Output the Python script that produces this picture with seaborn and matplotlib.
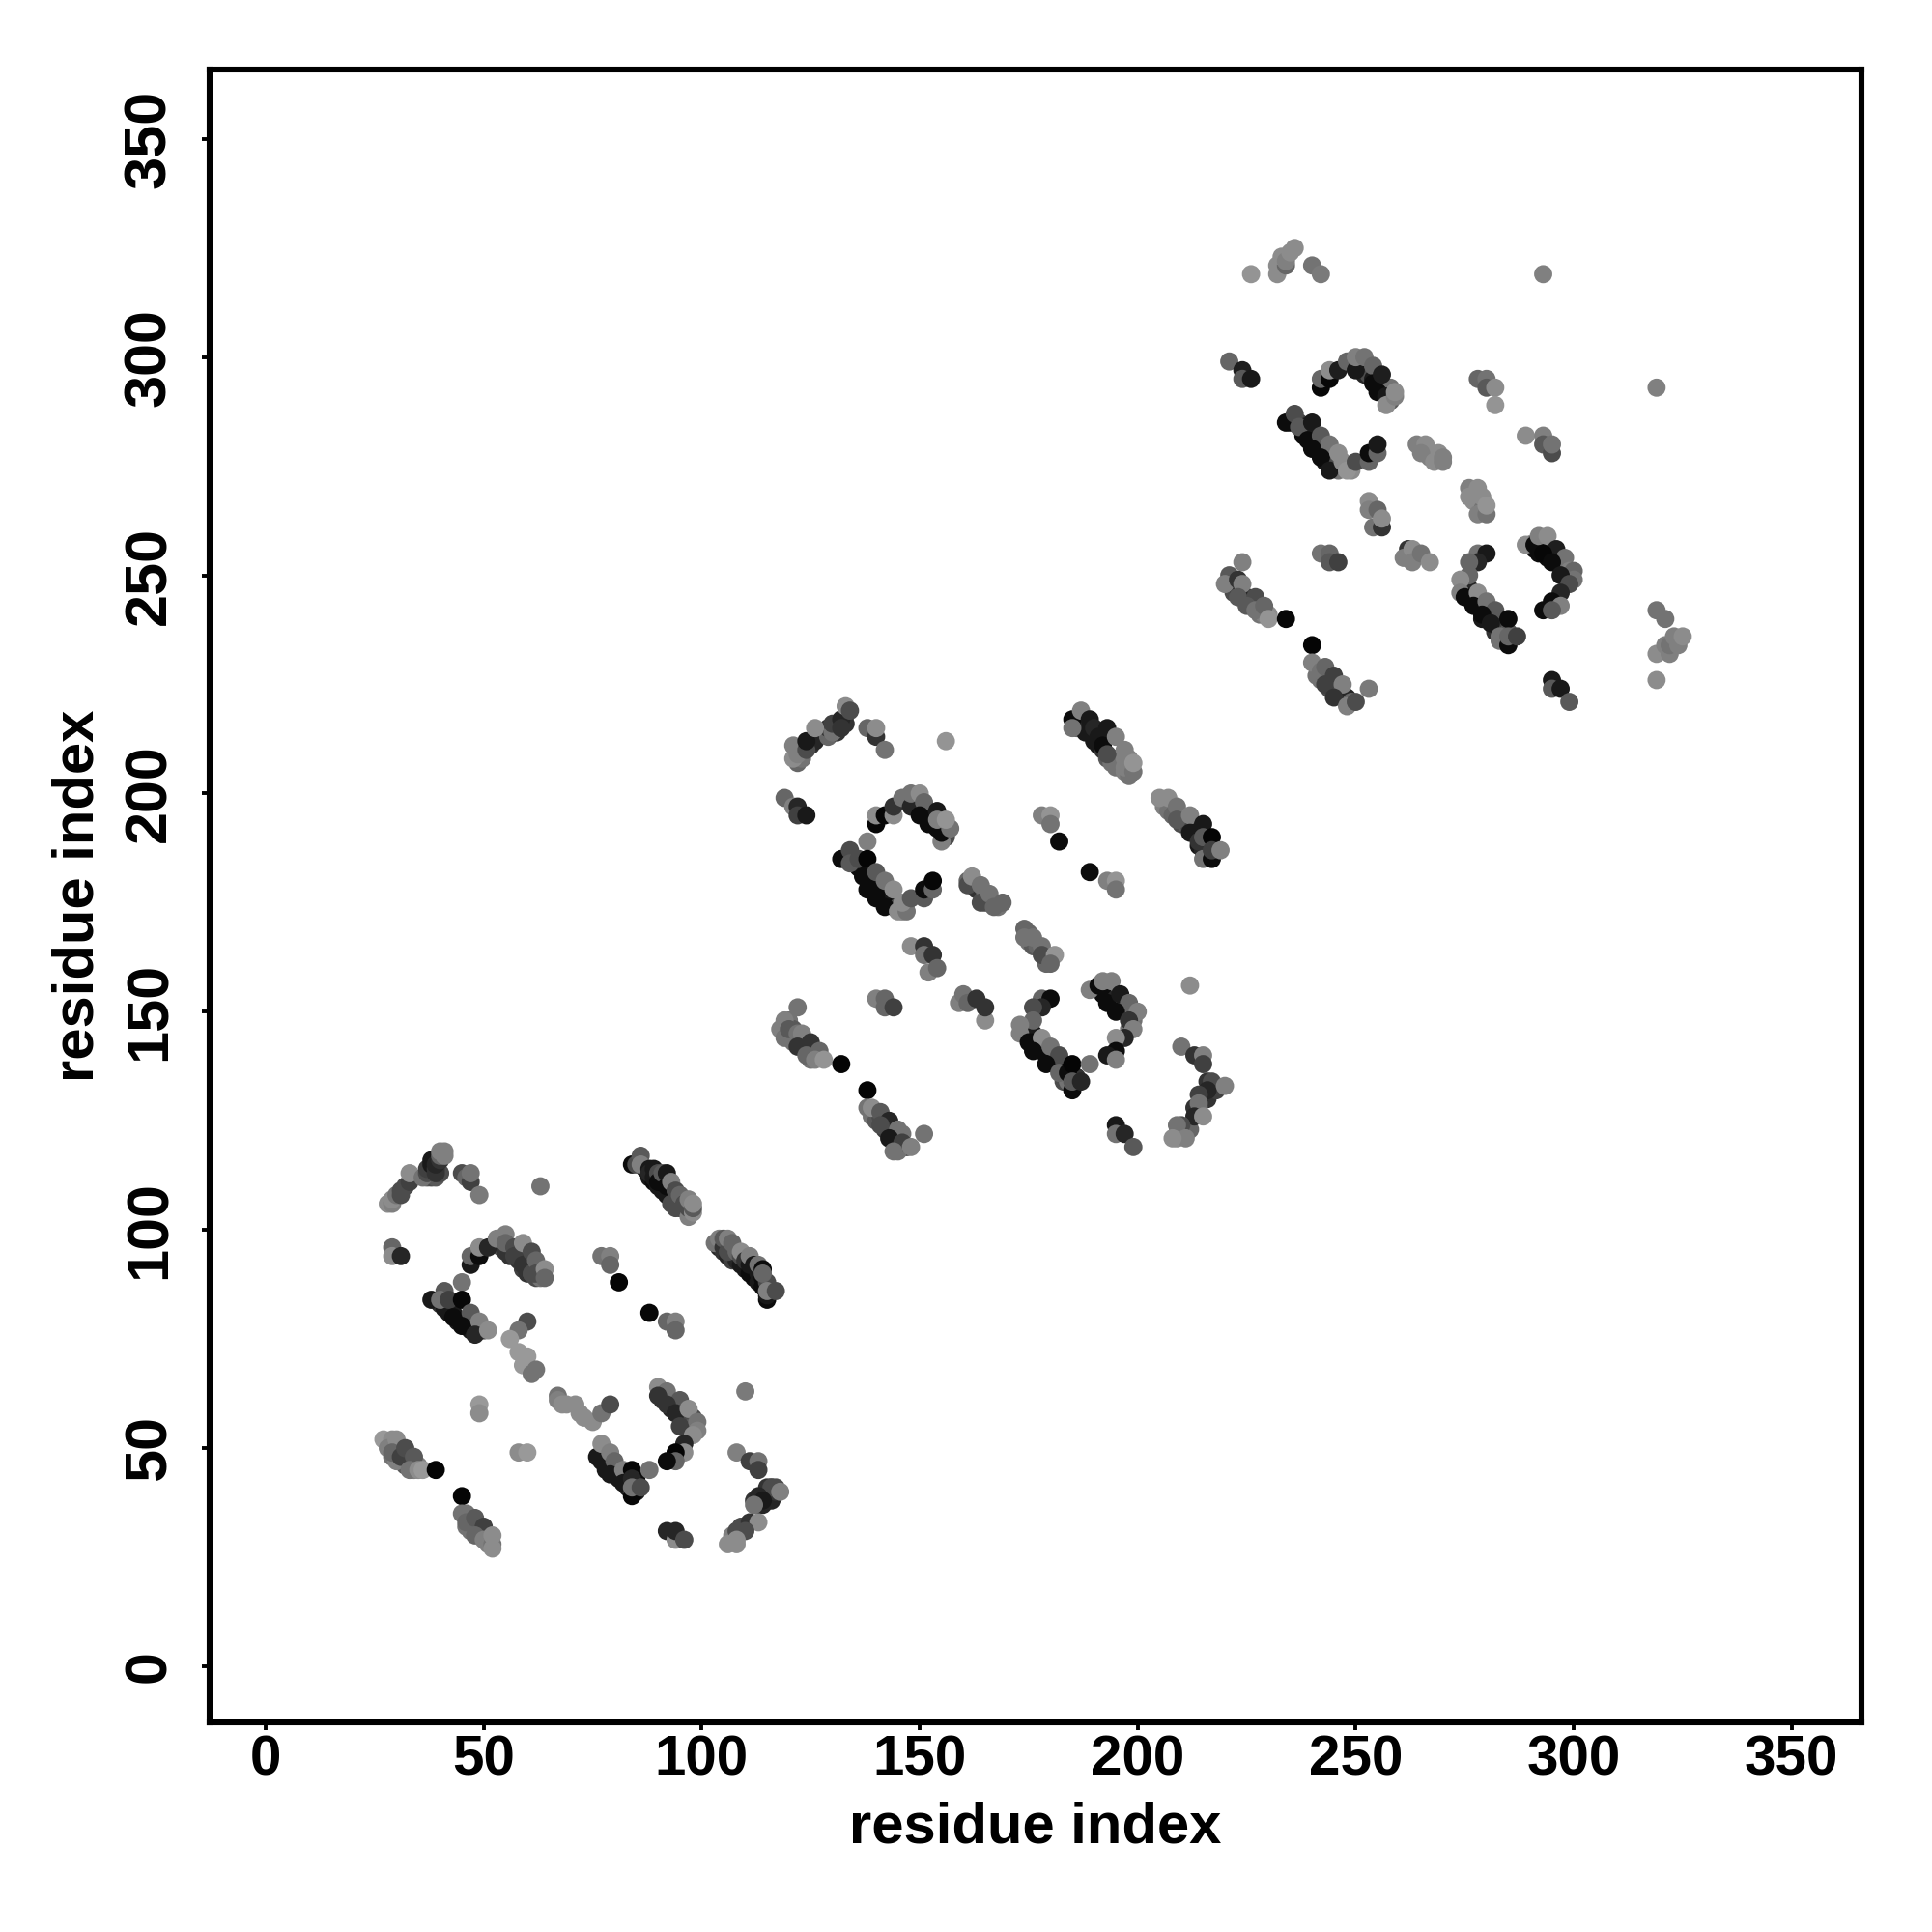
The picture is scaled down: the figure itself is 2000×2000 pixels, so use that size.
import matplotlib
matplotlib.use("Agg")
import matplotlib.pyplot as plt
import pandas as pd
import seaborn as sns

# Each entry: (residue x, residue y, grey level)
under_a = [(37,112,.4),(38,112,.3),(38,113,.25),(39,112,.35),(40,113,.3),(87,114,.1),(88,112,.1),(89,111,.05),(90,110,.1),(91,109,.1),
           (92,108,.1),(93,106,.3),(94,105,.3),(95,105,.3),(97,103,.5),(104,96,.15),(105,95,.2),(106,94,.15),(107,93,.25),(108,93,.15),
           (109,92,.1),(110,91,.1),(111,90,.05),(112,89,.05),(113,88,.1),(114,87,.05),(115,86,.2),(54,96,.3),(55,95,.2),(56,94,.2),
           (58,93,.2),(59,91,.25),(60,90,.2),(61,90,.3),(62,89,.3),(63,89,.45),(40,83,.2),(41,82,.1),(42,81,.1),(43,81,.1),(44,79,.1),
           (45,79,.1),(46,78,.1),(47,77,.1),(48,77,.15),(49,77,.15),(50,77,.2),(28,51,.4),(29,50,.35),(29,48,.45),(30,48,.15),
           (30,49,.2),(31,47,.4),(32,46,.35),(33,46,.4),(34,46,.45),(34,45,.5),(35,46,.5),(46,35,.45),(46,32,.45),(47,31,.45),
           (47,33,.4),(48,32,.4),(49,30,.45),(49,32,.3),(50,31,.3),(51,30,.4),(51,28,.5),(51,29,.45),(91,61,.2),(92,61,.15),
           (93,59,.15),(94,60,.2),(95,58,.2),(96,57,.2),(96,55,.4),(97,54,.45),(97,56,.25),(98,57,.3),(98,55,.35),(77,47,.1),
           (78,46,.1),(79,46,.15),(80,44,.1),(81,43,.1),(82,44,.15),(83,41,.1),(83,43,.15),(84,40,.35),(85,43,.05),(85,40,.1),
           (112,38,.2),(113,37,.2),(114,37,.15),(115,39,.15),(116,38,.15),(117,40,.2),(116,41,.25),(117,41,.3),(109,32,.3),
           (107,30,.5),(108,28,.55)]
arc_a = [(28,106,.55),(29,106,.5),(29,107,.55),(30,108,.45),(31,108,.3),(31,109,.3),(32,110,.3),(33,111,.25),(33,113,.55),
         (36,112,.45),(37,113,.3),(37,114,.25),(38,115,.1),(38,116,.1),(39,113,.2),(39,114,.2),(39,115,.15),(40,116,.2),
         (40,117,.4),(40,118,.5),(41,118,.5),(41,117,.5),(45,113,.3),(46,112,.4),(47,111,.25),(47,113,.45),(49,108,.48),(63,110,.45)]
strip_a1 = [(84,115,.05),(85,115,.3),(86,117,.35),(86,115,.5),(88,114,.1),(88,113,.15),(89,112,.1),(89,114,.1),(90,113,.3),
            (90,111,.05),(91,113,.35),(92,110,.05),(92,113,.1),(93,111,.5),(94,109,.3),(94,107,.3),(95,108,.4),(96,106,.3),
            (97,105,.3),(97,107,.5),(98,104,.55),(98,105,.35),(98,106,.55)]
strip_a2 = [(103,97,.45),(104,98,.5),(105,96,.2),(105,98,.35),(106,95,.3),(106,98,.5),(107,96,.3),(107,97,.4),(108,95,.4),
            (109,94,.3),(109,95,.55),(110,93,.2),(111,92,.1),(111,94,.5),(112,92,.1),(113,90,.1),(113,91,.1),(113,92,.45),
            (114,89,.05),(114,91,.05),(115,84,.05),(115,85,.1),(115,88,.3),(114,90,.4),(115,86,.5),(117,86,.3)]
arch_a = [(29,96,.4),(29,94,.55),(31,94,.15),(47,92,.1),(47,94,.4),(49,94,.05),(49,96,.55),(51,96,.15),(53,98,.5),(55,99,.5),
          (55,97,.4),(57,96,.3),(57,94,.25),(59,97,.55),(59,92,.2),(61,95,.3),(61,90,.3),(62,93,.4),(62,90,.3),(64,91,.55),
          (64,89,.4),(45,88,.45)]
strip_a3 = [(38,84,.1),(41,86,.35),(40,84,.45),(42,84,.25),(45,84,.03),(43,80,.05),(47,81,.35),(45,78,.05),(49,79,.5),
            (48,76,.15),(51,77,.55)]
loose_a = [(60,79,.3),(58,77,.45),(56,75,.6),(58,72,.6),(60,71,.6),(59,69,.6),(61,67,.45),(62,68,.45),(49,60,.6),(49,58,.55),
           (58,49,.55),(60,49,.6),(67,62,.45),(67,61,.5),(68,60,.55),(69,60,.55),(71,60,.55),(72,58,.55),(73,57,.55),
           (75,56,.55),(77,58,.45),(79,60,.3),(77,94,.45),(79,94,.5),(79,92,.4),(81,88,.02),(88,81,.03),(92,79,.4),
           (94,79,.5),(94,77,.4),(110,63,.48),(92,31,.15),(94,29,.55),(94,31,.15),(96,29,.3)]
corner_a = [(27,52,.6),(29,52,.55),(28,50,.5),(30,52,.55),(30,47,.5),(29,49,.4),(31,48,.25),(32,50,.3),(34,48,.35),(33,45,.45),
            (35,45,.55),(36,45,.6),(39,45,.02),(45,39,.02),(45,35,.45),(46,33,.4),(48,34,.35),(50,32,.25),(48,30,.4),
            (50,29,.5),(52,28,.45),(52,27,.55),(52,30,.55)]
ushape_a = [(90,64,.55),(92,63,.45),(90,62,.2),(95,61,.35),(92,60,.2),(94,58,.15),(97,59,.55),(95,55,.25),(99,56,.45),(99,54,.5),
            (98,53,.55),(96,51,.15),(96,49,.55),(94,49,.02),(94,47,.4),(92,47,.05),(76,48,.1),(77,51,.55),(79,49,.5),(78,45,.1),
            (80,47,.4),(79,44,.1),(82,45,.5),(84,45,.03),(84,39,.03),(82,42,.1),(84,43,.15),(84,41,.45),(86,41,.3),(88,45,.45)]
chevron_a = [(108,49,.5),(111,47,.25),(113,47,.45),(113,45,.25),(115,41,.2),(116,41,.3),(113,39,.15),(114,38,.1),(112,37,.45),
             (118,40,.5),(111,33,.2),(113,33,.55),(108,31,.3),(110,31,.3),(108,29,.55),(106,28,.55)]

under_b = [(122,207,.4),(122,210,.3),(123,208,.45),(125,211,.2),(126,212,.15),(129,213,.4),(129,215,.2),(131,214,.2),(131,216,.2),
           (133,216,.2),(133,218,.2),(186,215,.4),(188,216,.15),(188,214,.1),(189,214,.1),(190,212,.1),(191,211,.1),(192,210,.2),
           (193,208,.35),(194,207,.45),(195,208,.4),(195,206,.45),(196,207,.45),(197,205,.5),(198,204,.45),(198,208,.5),(197,208,.5),
           (206,197,.5),(207,196,.45),(208,195,.4),(209,195,.4),(210,193,.3),(211,193,.35),(212,192,.25),(213,191,.1),(214,188,.1),
           (216,188,.05),(216,186,.1),(215,187,.15),(149,198,.15),(150,197,.15),(151,195,.1),(152,195,.1),(153,193,.05),(154,192,.05),
           (155,192,.1),(156,190,.3),(156,192,.4),(135,184,.1),(136,183,.05),(137,183,.1),(138,182,.15),(139,180,.05),(140,180,.05),
           (141,178,.05),(142,177,.05),(143,175,.1),(144,174,.05),(145,174,.3),(146,173,.5),(147,175,.5),(162,179,.3),(163,178,.2),
           (165,177,.4),(165,175,.3),(166,175,.4),(168,174,.45),(175,168,.4),(175,166,.45),(176,165,.35),(177,165,.4),(178,164,.4),
           (179,163,.25),(179,161,.4),(120,148,.45),(120,144,.45),(121,143,.45),(121,146,.35),(123,143,.2),(124,142,.25),(125,141,.35),
           (125,139,.45),(126,141,.45),(127,140,.5),(139,126,.45),(140,125,.35),(141,126,.3),(142,123,.25),(142,125,.2),(143,123,.1),
           (144,122,.2),(144,120,.25),(145,121,.35),(146,122,.45),(147,119,.2),(145,118,.45),(191,155,.05),(192,154,.05),(193,153,.05),
           (194,152,.1),(195,153,.15),(196,151,.1),(197,150,.1),(197,152,.35),(198,150,.4),(199,149,.5),(198,146,.45),(199,148,.45),
           (174,146,.1),(175,145,.05),(176,145,.1),(176,143,.05),(177,142,.05),(178,141,.05),(179,140,.05),(180,139,.05),(181,138,.1),
           (182,137,.1),(183,138,.3),(183,134,.3),(184,134,.45),(184,137,.05),(186,135,.2),(216,134,.2),(217,133,.2),(218,133,.3),
           (215,131,.15),(216,130,.2),(218,132,.25),(214,128,.45),(213,128,.2),(209,122,.5),(209,121,.55),(212,123,.4),(210,122,.45)]
arc_b = [(121,208,.55),(121,211,.5),(122,209,.5),(124,210,.3),(124,212,.1),(126,215,.55),(130,214,.45),(130,216,.25),(132,217,.15),
         (132,215,.2),(133,220,.55),(134,219,.3),(138,215,.4),(140,213,.2),(140,215,.55),(142,210,.45),(156,212,.58)]
strip_b1 = [(185,217,.05),(185,215,.45),(187,219,.5),(189,217,.1),(190,215,.15),(191,213,.1),(192,211,.05),(193,215,.1),(195,213,.5),
            (193,209,.3),(197,210,.5),(197,206,.5),(199,205,.45),(199,207,.58)]
strip_b2 = [(205,199,.55),(207,199,.55),(209,197,.45),(209,194,.35),(212,195,.5),(212,191,.1),(215,193,.1),(214,189,.2),(215,190,.35),
            (217,190,.02),(215,185,.45),(217,185,.05),(217,187,.25),(219,187,.5)]
arch_b = [(119,199,.4),(121,197,.5),(122,197,.15),(122,195,.25),(124,195,.1),(140,193,.03),(140,195,.55),(142,195,.03),(144,195,.55),
          (144,197,.2),(146,199,.45),(148,197,.15),(148,200,.45),(150,200,.55),(151,198,.4),(150,195,.05),(154,196,.1),(152,193,.05),
          (155,189,.5),(155,191,.05),(154,194,.5),(157,192,.45),(156,194,.58),(138,189,.5)]
strip_b3 = [(132,185,.05),(134,187,.3),(134,184,.35),(136,185,.3),(138,185,.02),(137,181,.05),(140,182,.35),(138,178,.05),(142,180,.45),
            (140,176,.05),(144,178,.55),(142,174,.05),(145,173,.55),(147,173,.45),(146,175,.55),(148,176,.35),(151,176,.35),(151,178,.05),
            (153,178,.4),(153,180,.03)]
loose_b = [(161,180,.4),(161,179,.3),(162,181,.55),(164,179,.45),(164,175,.3),(166,177,.45),(167,174,.4),(169,175,.4),(178,195,.5),
           (180,195,.58),(180,193,.45),(182,189,.05),(189,182,.05),(193,180,.5),(195,180,.58),(195,178,.45),(174,169,.4),(174,167,.45),
           (176,167,.45),(178,165,.45),(178,163,.3),(181,163,.58),(180,161,.4),(148,165,.55),(151,165,.2),(151,163,.45),(153,163,.2),
           (152,159,.5),(154,160,.4),(140,153,.5),(142,153,.4),(142,151,.4),(144,151,.25),(159,152,.5),(160,154,.45),(161,152,.4),
           (163,153,.2),(165,148,.55),(165,151,.2),(212,156,.55)]
corner_b = [(122,151,.45),(119,148,.5),(118,146,.5),(119,144,.45),(120,146,.35),(122,145,.45),(123,145,.5),(122,142,.2),(125,143,.2),
            (124,140,.4),(127,141,.4),(126,139,.5),(128,139,.58),(132,138,.02),(138,132,.02),(138,128,.45),(139,128,.55),(141,127,.35),
            (143,125,.15),(141,124,.3),(145,123,.45),(143,121,.1),(146,120,.25),(144,118,.45),(148,119,.5),(151,122,.45)]
ushape_b = [(189,155,.5),(191,156,.05),(192,157,.5),(194,157,.5),(193,152,.05),(196,154,.1),(198,152,.4),(195,150,.05),(200,150,.5),
            (198,148,.2),(199,146,.5),(197,144,.15),(195,144,.55),(195,141,.05),(193,140,.1),(195,139,.5),(178,153,.4),(180,153,.05),
            (178,151,.15),(176,151,.3),(176,148,.4),(173,147,.5),(173,145,.5),(175,143,.05),(178,144,.55),(176,141,.05),(180,142,.45),
            (182,140,.3),(179,138,.05),(182,136,.4),(184,136,.05),(185,138,.02),(185,132,.05),(185,134,.35),(187,134,.15),(189,138,.45)]
chevron_b = [(210,142,.45),(213,140,.2),(215,140,.5),(215,138,.25),(217,134,.3),(216,132,.15),(214,131,.25),(214,129,.45),(220,133,.5),
             (213,126,.15),(215,126,.55),(210,124,.3),(209,124,.45),(211,121,.5),(208,121,.55),(195,124,.1),(195,122,.45),(197,122,.15),
             (199,119,.35)]

under_c = [(251,298,.2),(252,296,.15),(253,296,.3),(254,295,.1),(255,293,.1),(256,292,.05),(257,291,.1),(258,290,.35),(258,293,.45),
           (235,285,.1),(237,285,.25),(238,284,.1),(238,282,.05),(239,283,.2),(240,280,.05),(241,279,.05),(241,281,.2),(242,279,.1),
           (243,278,.1),(243,276,.1),(244,276,.15),(245,275,.3),(246,274,.45),(247,275,.5),(249,274,.55),(249,275,.55),(265,279,.5),
           (267,278,.5),(267,277,.5),(269,278,.55),(277,269,.5),(277,267,.55),(279,267,.55),(279,265,.45),(279,268,.55),(221,249,.4),
           (222,246,.3),(223,247,.2),(224,245,.4),(225,245,.15),(226,243,.35),(227,243,.2),(228,241,.45),(228,243,.35),(229,241,.5),
           (230,241,.55),(241,227,.45),(242,226,.45),(243,227,.3),(244,224,.3),(245,224,.2),(246,223,.35),(246,225,.3),(247,222,.45),
           (247,223,.1),(248,222,.15),(249,221,.4),(290,257,.05),(291,256,.05),(292,255,.05),(293,256,.2),(294,254,.05),(295,255,.3),
           (296,254,.1),(297,252,.1),(298,250,.3),(298,252,.4),(299,250,.45),(299,249,.35),(275,248,.1),(275,246,.1),(276,247,.15),
           (276,245,.05),(277,244,.05),(278,243,.05),(279,243,.1),(279,240,.1),(280,242,.1),(280,240,.1),(281,241,.2),(282,239,.1),
           (282,237,.2),(283,238,.2),(284,238,.25),(284,235,.3),(285,235,.1),(286,236,.3),(283,235,.45),(285,237,.35)]
top_c = [(226,319,.58),(232,319,.55),(232,321,.55),(234,321,.4),(233,323,.55),(234,322,.5),(235,324,.55),(236,325,.55),(240,321,.45),
         (242,319,.48),(293,319,.5)]
arch_c = [(221,299,.4),(224,297,.12),(224,295,.35),(226,295,.1),(242,293,.03),(242,295,.4),(244,295,.03),(244,297,.55),(246,297,.12),
          (248,299,.4),(250,297,.1),(250,300,.5),(252,300,.45),(254,298,.4),(254,294,.05),(256,296,.12),(255,292,.05),(257,291,.1),
          (257,289,.55),(259,291,.5),(259,292,.55),(278,295,.4),(280,295,.45),(280,293,.35),(282,293,.55),(282,289,.58),(319,293,.5)]
strip_c = [(234,285,.05),(236,287,.3),(237,284,.35),(240,285,.1),(239,281,.05),(242,282,.35),(240,279,.05),(244,280,.45),(242,277,.05),
           (246,278,.55),(244,274,.1),(247,276,.55),(248,274,.58),(250,276,.3),(253,276,.4),(253,278,.05),(255,278,.4),(255,280,.1)]
loose_c = [(264,280,.5),(266,280,.55),(265,278,.5),(268,276,.55),(270,277,.5),(270,276,.5),(289,282,.55),(293,282,.5),(293,280,.35),
           (295,278,.3),(295,280,.45),(276,270,.5),(276,268,.55),(278,270,.55),(278,264,.5),(280,264,.45),(280,266,.58),(253,267,.55),
           (253,265,.5),(255,265,.4),(254,261,.45),(256,261,.2),(256,263,.55),(242,255,.45),(244,255,.4),(244,253,.35),(246,253,.25),
           (262,256,.2),(261,254,.5),(263,256,.55),(263,253,.5),(265,255,.45),(267,253,.55)]
corner_c = [(224,253,.5),(221,250,.35),(220,248,.5),(223,249,.2),(224,248,.5),(223,245,.35),(227,245,.3),(225,243,.35),(227,242,.45),
            (229,243,.4),(230,240,.58),(234,240,.03),(240,234,.02),(240,230,.5),(242,228,.45),(243,229,.4),(245,227,.25),(243,225,.25),
            (247,225,.5),(245,222,.2),(248,220,.5),(250,221,.3),(253,224,.48)]
ushape_c = [(289,257,.55),(291,257,.05),(292,259,.5),(294,259,.55),(296,256,.12),(293,255,.03),(298,254,.45),(295,253,.05),(299,251,.5),
            (300,251,.4),(300,249,.45),(297,250,.1),(299,248,.3),(297,246,.15),(295,244,.05),(297,243,.5),(293,242,.05),(295,242,.35),
            (278,255,.45),(280,255,.1),(278,253,.15),(276,253,.4),(276,250,.4),(274,249,.55),(274,246,.5),(275,245,.05),(278,246,.55),
            (277,243,.05),(280,244,.45),(282,242,.35),(279,241,.05),(281,239,.1),(283,236,.45),(285,240,.05),(285,234,.05),(285,236,.4),
            (287,236,.25)]
chevron_c = [(295,226,.1),(295,224,.35),(297,224,.1),(299,221,.35),(319,242,.45),(321,240,.45),(319,232,.55),(321,234,.5),(322,232,.5),
             (322,234,.45),(323,236,.5),(324,234,.5),(325,236,.55),(319,226,.55)]

clusters = [under_a, arc_a, strip_a1, strip_a2, arch_a, strip_a3, loose_a, corner_a, ushape_a, chevron_a,
            under_b, arc_b, strip_b1, strip_b2, arch_b, strip_b3, loose_b, corner_b, ushape_b, chevron_b,
            under_c, top_c, arch_c, strip_c, loose_c, corner_c, ushape_c, chevron_c]
ticks = [0, 50, 100, 150, 200, 250, 300, 350]
axis_label = "residue index"

df = pd.DataFrame([p for c in clusters for p in c], columns=["x", "y", "grey"])

sns.set_theme(style="white")
plt.rcParams["font.family"] = ["Liberation Sans", "DejaVu Sans"]
plt.rcParams["font.weight"] = "bold"

fig = plt.figure(figsize=(10, 10), dpi=200)
ax = fig.add_axes([217/2000, 1 - 1783/2000, (1927-217)/2000, (1783-71.5)/2000])
sns.scatterplot(data=df, x="x", y="y", hue="grey", palette="gray", hue_norm=(0, 1),
                s=46, linewidth=0, legend=False, ax=ax, clip_on=True)
ax.set_xlim(-12.87, 366)
ax.set_ylim(-12.84, 366)
ax.set_xticks(ticks)
ax.set_yticks(ticks)
ax.set_xticklabels([str(t) for t in ticks], fontsize=21, fontweight="bold")
ax.set_yticklabels([str(t) for t in ticks], fontsize=22, fontweight="bold", rotation=90, va="center")
ax.tick_params(axis="x", length=3, width=1.4, color="black", labelcolor="black", pad=1.5, bottom=True)
ax.tick_params(axis="y", length=3, width=1.4, color="black", labelcolor="black", pad=8.7, left=True)
ax.set_xlabel(axis_label, fontsize=21.5, fontweight="bold", color="black", labelpad=5.5)
ax.set_ylabel(axis_label, fontsize=21.5, fontweight="bold", color="black", labelpad=7)
for s in ax.spines.values():
    s.set_visible(True)
    s.set_color("black")
    s.set_linewidth(2.2)
fig.savefig("out.png", dpi=200, facecolor="white")
